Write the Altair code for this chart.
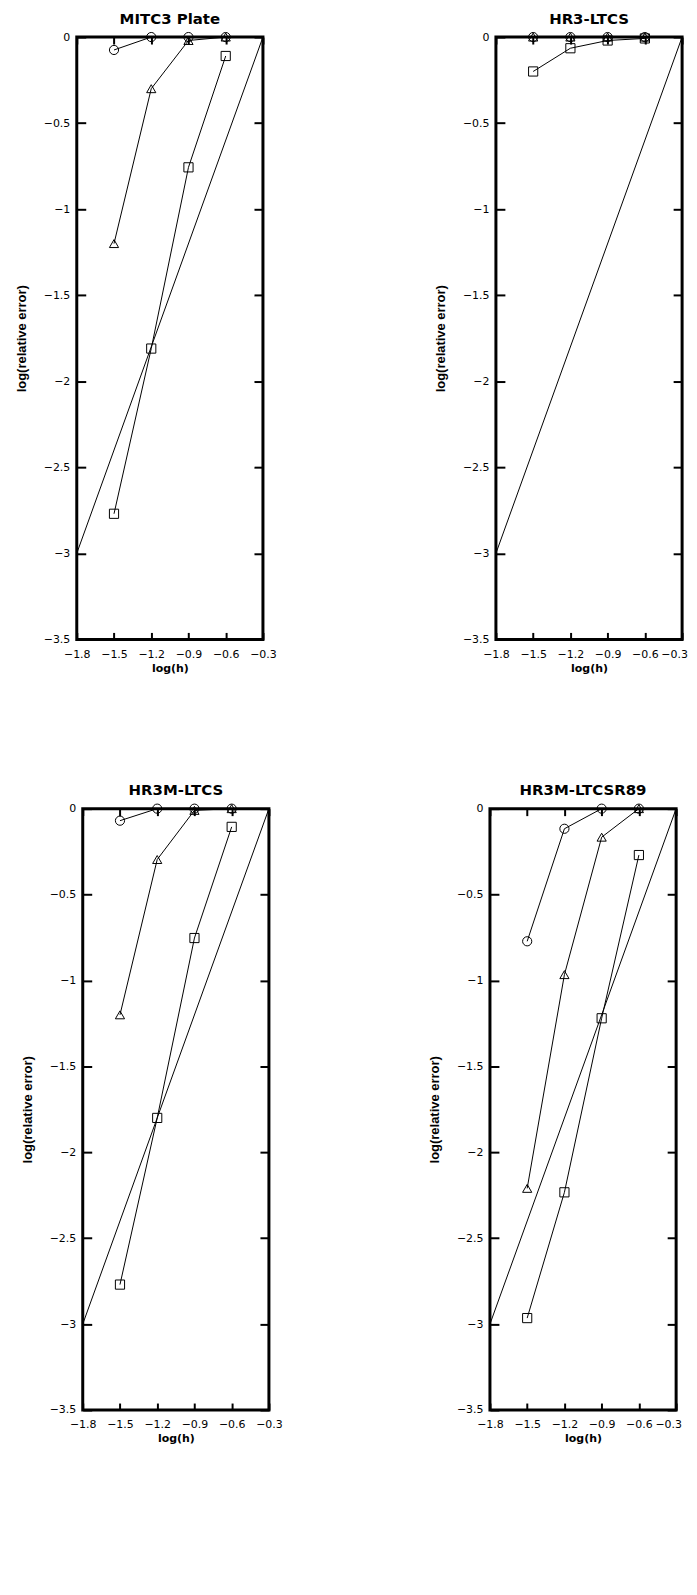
import altair as alt
import pandas as pd

# ---------------- data ----------------
panel_titles = ["MITC3 Plate", "HR3-LTCS", "HR3M-LTCS", "HR3M-LTCSR89"]
log_h = [-1.5, -1.2, -0.9, -0.6]
series_names = ["circle", "triangle", "square"]
shape_range = ["circle", "triangle-up", "square"]

mitc3_circle = [-0.075, 0.0, 0.0, 0.0]
mitc3_triangle = [-1.20, -0.30, -0.02, 0.0]
mitc3_square = [-2.77, -1.81, -0.757, -0.11]

hr3_circle = [0.0, 0.0, 0.0, 0.0]
hr3_triangle = [0.0, 0.0, 0.0, 0.0]
hr3_square = [-0.20, -0.065, -0.02, -0.008]

hr3m_circle = [-0.07, 0.0, 0.0, 0.0]
hr3m_triangle = [-1.20, -0.296, -0.01, 0.0]
hr3m_square = [-2.77, -1.80, -0.753, -0.106]

r89_circle = [-0.772, -0.117, 0.0, 0.0]
r89_triangle = [-2.21, -0.966, -0.166, 0.0]
r89_square = [-2.965, -2.233, -1.22, -0.27]

ref_h = [-1.8, -0.3]
ref_err = [-3.0, 0.0]

x_ticks = [-1.8, -1.5, -1.2, -0.9, -0.6, -0.3]
y_ticks = [0.0, -0.5, -1.0, -1.5, -2.0, -2.5, -3.0, -3.5]

LABEL_FONT = "DejaVu Sans"
TITLE_FONT = "DejaVu Sans"


def panel(title, circ, tri, sq, width, height, last_label_shift):
    rows = []
    for name, vals in zip(series_names, [circ, tri, sq]):
        for h, e in zip(log_h, vals):
            rows.append({"h": h, "err": e, "series": name})
    df = pd.DataFrame(rows)
    ref = pd.DataFrame({"h": ref_h, "err": ref_err})

    xs = alt.Scale(domain=[-1.8, -0.3], nice=False, zero=False)
    ys = alt.Scale(domain=[-3.5, 0.0], nice=False, zero=False)

    x_bottom = alt.Axis(orient="bottom", values=x_ticks, offset=-7, tickSize=7,
                        tickWidth=2, domain=False, grid=False, labelPadding=9,
                        format="~g", labelFont=LABEL_FONT, labelFontSize=11,
                        labelOffset={"condition": {"test": "datum.value > -0.35",
                                                   "value": last_label_shift},
                                     "value": 0},
                        title="log(h)", titleFont=TITLE_FONT, titleFontSize=11,
                        titleFontWeight="bold", titlePadding=3, labelFlush=False,
                        minExtent=0)
    y_left = alt.Axis(orient="left", values=y_ticks, offset=-9, tickSize=9,
                      tickWidth=2, domain=False, grid=False, labelPadding=7,
                      format="~g", labelFont=LABEL_FONT, labelFontSize=11,
                      title="log(relative error)", titleFont="Liberation Sans",
                      titleFontSize=13, titleFontWeight="bold",
                      titlePadding=15, labelFlush=False, minExtent=0)
    x_top = alt.Axis(orient="top", values=x_ticks, offset=-7, tickSize=7,
                     tickWidth=2, domain=False, grid=False, labels=False,
                     title=None, minExtent=0)
    y_right = alt.Axis(orient="right", values=y_ticks, offset=-9, tickSize=9,
                       tickWidth=2, domain=False, grid=False, labels=False, title=None,
                       minExtent=0)

    ref_layer = alt.Chart(ref).mark_line(color="black", strokeWidth=1).encode(
        x=alt.X("h:Q", scale=xs, axis=x_bottom),
        y=alt.Y("err:Q", scale=ys, axis=y_left),
    )
    line_layer = alt.Chart(df).mark_line(color="black", strokeWidth=1).encode(
        x=alt.X("h:Q", scale=xs, axis=x_top),
        y=alt.Y("err:Q", scale=ys, axis=y_right),
        detail="series:N",
    )
    pt_layer = alt.Chart(df).mark_point(filled=False, color="black", strokeWidth=1,
                                        size=85, opacity=1).encode(
        x=alt.X("h:Q", scale=xs, axis=None),
        y=alt.Y("err:Q", scale=ys, axis=None),
        shape=alt.Shape("series:N",
                        scale=alt.Scale(domain=series_names, range=shape_range),
                        legend=None),
    )
    return alt.layer(ref_layer, line_layer, pt_layer).resolve_axis(
        x="independent", y="independent"
    ).properties(
        width=width, height=height,
        title=alt.TitleParams(title, font=TITLE_FONT, fontSize=15, fontWeight="bold",
                              anchor="middle", frame="group", baseline="alphabetic",
                              offset=-8, color="black"),
    )


p1 = panel(panel_titles[0], mitc3_circle, mitc3_triangle, mitc3_square, 187, 605, 0)
p2 = panel(panel_titles[1], hr3_circle, hr3_triangle, hr3_square, 187, 605, -8)
p3 = panel(panel_titles[2], hr3m_circle, hr3m_triangle, hr3m_square, 187, 604, 0)
p4 = panel(panel_titles[3], r89_circle, r89_triangle, r89_square, 187, 604, -8)

row1 = alt.hconcat(p1, p2, spacing=234, bounds="flush")
row2 = alt.hconcat(p3, p4, spacing=222, bounds="flush")

chart = alt.concat(row1, row2, columns=1, spacing=106, center=True).properties(
    padding={"left": 5, "top": -2, "right": 0, "bottom": 5},
    background="white",
).configure_view(
    stroke="black", strokeWidth=3
).configure_axis(
    labelColor="black", tickColor="black", titleColor="black"
)

chart.save("out.html", embed_options={"renderer": "svg", "actions": False})
